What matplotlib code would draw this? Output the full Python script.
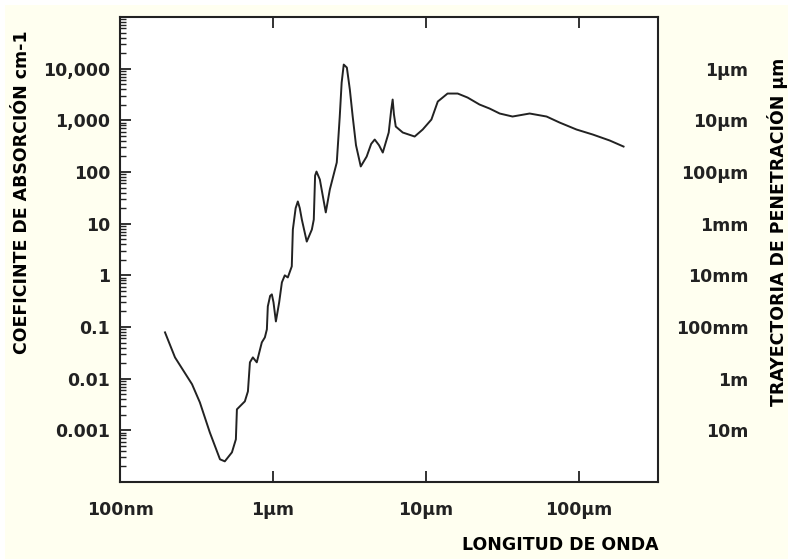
import matplotlib.pyplot as plt
from matplotlib.patches import Rectangle

# wavelength in micrometres, absorption coefficient in cm-1
wavelength_um = [
    0.197, 0.229, 0.296, 0.333, 0.387, 0.451, 0.485, 0.540, 0.573, 0.582,
    0.656, 0.687, 0.708, 0.740, 0.785, 0.847, 0.887, 0.914, 0.927, 0.96, 0.985,
    1.01, 1.047, 1.10, 1.146, 1.197, 1.253, 1.33, 1.352, 1.41, 1.457, 1.50, 1.548, 1.667, 1.80,
    1.853, 1.89, 1.93, 2.03, 2.22, 2.36, 2.62, 2.74, 2.82, 2.91, 3.05, 3.19, 3.33,
    3.50, 3.76, 4.11, 4.40, 4.64, 4.95, 5.24, 5.73, 5.95, 6.08, 6.20, 6.37, 7.08, 8.47, 9.56,
    10.9, 12.0, 13.9, 16.2, 18.8, 22.5, 26.2, 30.5, 37.0, 47.9,
    61.8, 75.2, 97.0, 124, 160, 197,
]
absorption = [
    0.0787, 0.0258, 0.0078, 0.00348, 0.00091, 0.000275, 0.000251, 0.000375, 0.00067, 0.00255,
    0.00364, 0.00567, 0.0207, 0.0258, 0.0207, 0.0504, 0.063, 0.09, 0.25, 0.40, 0.428,
    0.30, 0.128, 0.30, 0.73, 1.0, 0.91, 1.49, 7.7, 20.0, 26.9, 20.0, 12.0, 4.5, 7.7,
    12.0, 85, 102, 71.6, 16.5, 45.9, 153, 1185, 5380, 12000, 10500, 3945, 1185,
    330, 128, 199, 350, 425, 330, 238, 581, 1600, 2525, 1300, 759, 581, 486, 664,
    1036, 2311, 3300, 3300, 2760, 2023, 1690, 1355, 1185, 1355,
    1185, 906, 664, 531, 407, 311,
]

x_ticks = [0.1, 1, 10, 100]
x_labels = ["100nm", "1µm", "10µm", "100µm"]
y_ticks = [1e4, 1e3, 1e2, 1e1, 1, 0.1, 0.01, 0.001]
y_labels = ["10,000", "1,000", "100", "10", "1", "0.1", "0.01", "0.001"]
depth_labels = ["1µm", "10µm", "100µm", "1mm", "10mm", "100mm", "1m", "10m"]

font = {"family": "DejaVu Sans", "weight": "bold", "size": 12.5}
cream = "#fffff0"

fig = plt.figure(figsize=(7.88, 5.59), dpi=100, facecolor="white")
fig.patches.append(Rectangle((5 / 788, 0), 1, 1 - 5 / 559, transform=fig.transFigure,
                             facecolor=cream, edgecolor="none", zorder=-10))

ax = fig.add_axes([120 / 788, 1 - 482 / 559, 538 / 788, 465 / 559])
ax.plot(wavelength_um, absorption, color="#222222", lw=1.4)
ax.set_xscale("log")
ax.set_yscale("log")
ax.set_xlim(0.1, 10 ** 2.52)
ax.set_ylim(1e-4, 1e5)

ax.set_xticks(x_ticks)
ax.set_xticklabels(x_labels, fontdict=font)
ax.set_yticks(y_ticks)
ax.set_yticklabels(y_labels, fontdict=font)
ax.tick_params(which="both", direction="in", top=True, right=True, colors="#222222")
ax.tick_params(which="major", length=8, width=1.3)
ax.tick_params(which="minor", length=4, width=1.0)
ax.tick_params(axis="x", pad=14)
ax.tick_params(axis="y", pad=7)
for s in ax.spines.values():
    s.set_linewidth(1.5)
    s.set_color("#222222")

# right axis: penetration depth = 1 / absorption
ax2 = ax.twinx()
ax2.set_yscale("log")
ax2.set_ylim(1e-4, 1e5)
ax2.set_yticks(y_ticks)
ax2.set_yticklabels(depth_labels, fontdict=font)
ax2.minorticks_off()
ax2.tick_params(axis="y", length=0, pad=65, colors="#222222")
for lbl in ax2.get_yticklabels():
    lbl.set_horizontalalignment("right")
for s in ax2.spines.values():
    s.set_visible(False)

fig.text(22 / 788, 1 - 192 / 559, "COEFICINTE DE ABSORCIÓN cm-1", rotation=90,
         ha="center", va="center", fontdict=font)
fig.text(778 / 788, 1 - 232 / 559, "TRAYECTORIA DE PENETRACIÓN µm", rotation=90,
         ha="center", va="center", fontdict=font)
fig.text(560 / 788, 1 - 545 / 559, "LONGITUD DE ONDA", ha="center", va="center", fontdict=font)

fig.savefig("out.png", dpi=100, facecolor=fig.get_facecolor())
